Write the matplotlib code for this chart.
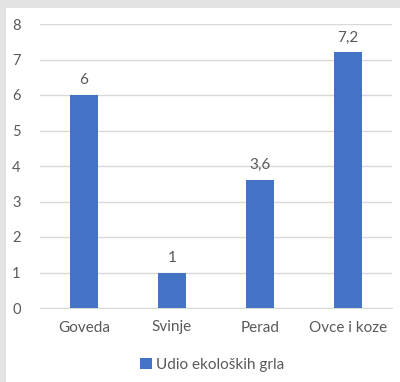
import matplotlib.pyplot as plt
from matplotlib.patches import Rectangle

categories = ["Goveda", "Svinje", "Perad", "Ovce i koze"]
values = [6, 1, 3.6, 7.2]
value_labels = ["6", "1", "3,6", "7,2"]
series_name = "Udio ekoloških grla"
y_ticks = [0, 1, 2, 3, 4, 5, 6, 7, 8]

bar_color = "#4472C4"
text_color = "#595959"
grid_color = "#D9D9D9"

plt.rcParams['font.family'] = ['Lato', 'DejaVu Sans']

fig = plt.figure(figsize=(4.0, 3.82), dpi=100)
fig.patch.set_facecolor("#E3E3E3")
# white chart area, gray strip on top and left
fig.patches.append(Rectangle((6 / 400, 0), 1, 1 - 8 / 382, transform=fig.transFigure,
                             facecolor="white", edgecolor="none", zorder=-10))

ax = fig.add_axes([40 / 400, 1 - 308 / 382, 352 / 400, 284 / 382])
ax.set_facecolor("none")

x = range(len(categories))
bars = ax.bar(x, values, width=0.31, color=bar_color, zorder=3)
for b, lab in zip(bars, value_labels):
    ax.text(b.get_x() + b.get_width() / 2, b.get_height() + 0.22, lab,
            ha="center", va="bottom", fontsize=11, color=text_color)

ax.set_xlim(-0.5, len(categories) - 0.5)
ax.set_ylim(0, 8)
ax.set_yticks(y_ticks)
ax.set_xticks(list(x))
ax.set_xticklabels(categories)
ax.tick_params(axis="y", length=0, pad=14, labelsize=10.5, labelcolor=text_color)
ax.tick_params(axis="x", length=0, pad=9, labelsize=11, labelcolor=text_color)
ax.yaxis.grid(True, color=grid_color, linewidth=1, zorder=0)
for s in ["top", "right", "left"]:
    ax.spines[s].set_visible(False)
ax.spines["bottom"].set_color(grid_color)

leg = fig.legend([bars[0]], [series_name], loc="center", bbox_to_anchor=(0.53, 1 - 365 / 382),
                 frameon=False, fontsize=11, handlelength=0.75, handleheight=0.75,
                 handletextpad=0.25, labelcolor=text_color)

fig.savefig("out.png", dpi=100)
